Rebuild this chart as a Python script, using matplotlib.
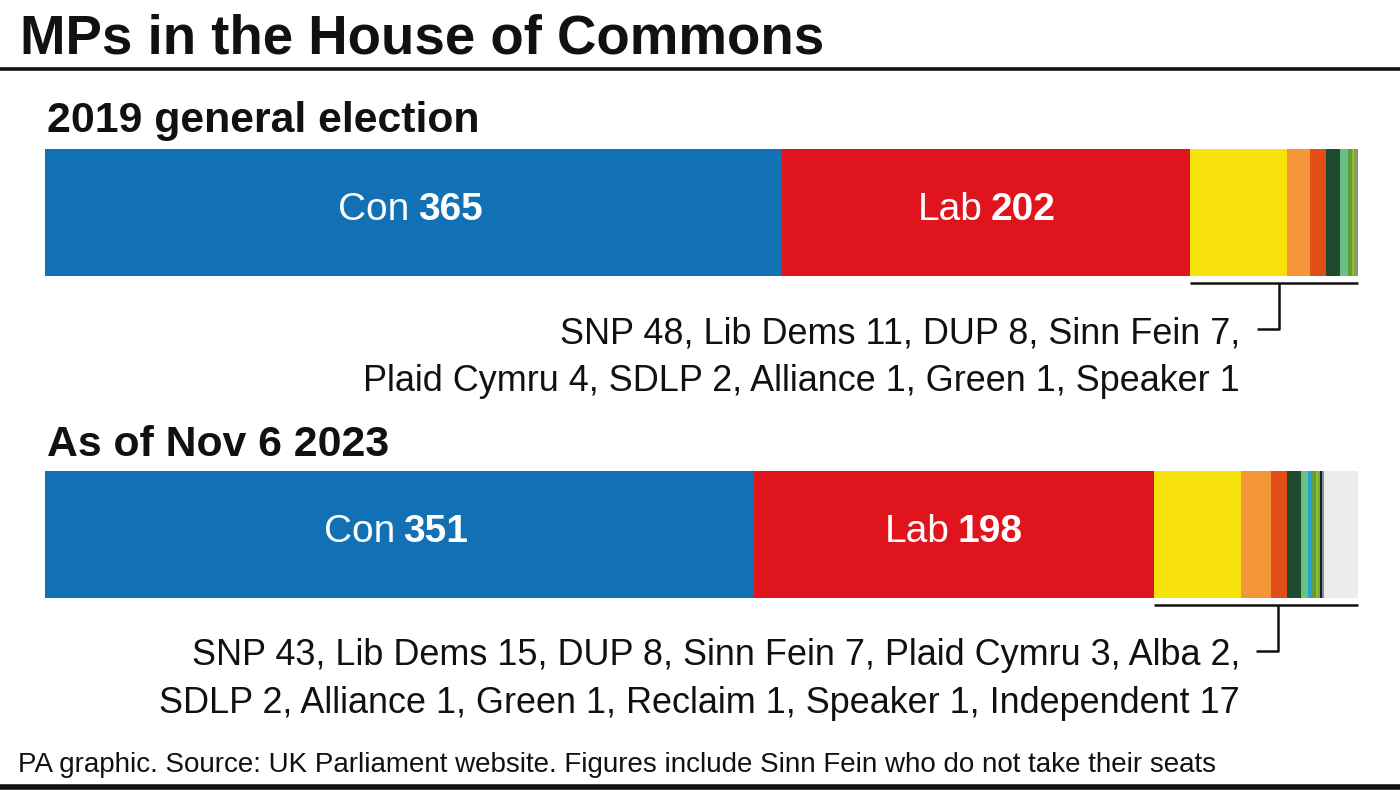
import matplotlib
matplotlib.use("Agg")
import matplotlib.pyplot as plt
import matplotlib.transforms as mtransforms
import numpy as np

plt.rcParams['font.family'] = ['Liberation Sans', 'DejaVu Sans']

# data
parties_2019 = ["Con", "Lab", "SNP", "Lib Dems", "DUP", "Sinn Fein", "Plaid Cymru",
                "SDLP", "Alliance", "Green", "Speaker"]
seats_2019 = [365, 202, 48, 11, 8, 7, 4, 2, 1, 1, 1]

parties_2023 = ["Con", "Lab", "SNP", "Lib Dems", "DUP", "Sinn Fein", "Plaid Cymru",
                "Alba", "SDLP", "Alliance", "Green", "Reclaim", "Speaker", "Independent"]
seats_2023 = [351, 198, 43, 15, 8, 7, 3, 2, 2, 1, 1, 1, 1, 17]

party_colors = {
    "Con": "#1270b4", "Lab": "#e0141d", "SNP": "#f8e20b", "Lib Dems": "#f29638",
    "DUP": "#e14e17", "Sinn Fein": "#1e4b2d", "Plaid Cymru": "#6cbf85",
    "Alba": "#24a2d0", "SDLP": "#5aa03c", "Alliance": "#a9b02e", "Green": "#70b42c",
    "Reclaim": "#101c3c", "Speaker": "#8d8d8d", "Independent": "#ececec",
}

W, H = 1400, 794
fig = plt.figure(figsize=(14, 7.94), dpi=100)

# overlay axes in pixel coords for text and rules
ov = fig.add_axes([0, 0, 1, 1])
ov.set_xlim(0, W)
ov.set_ylim(H, 0)
ov.axis("off")

ink = "#111111"
ov.text(20, 53, "MPs in the House of Commons", fontsize=39.3, fontweight="bold",
        color=ink, va="baseline")
ov.plot([0, W], [69, 69], color=ink, lw=2.6, solid_capstyle="butt")
ov.plot([0, W], [787, 787], color=ink, lw=4, solid_capstyle="butt")
ov.text(18, 772, "PA graphic. Source: UK Parliament website. Figures include Sinn Fein "
        "who do not take their seats", fontsize=20, color=ink, va="baseline")


def draw_block(parties, seats, title, top, title_base, lines, tick_x):
    bar_h = 127
    ov.text(47, title_base, title, fontsize=30.8, fontweight="bold", color=ink,
            va="baseline")
    ax = fig.add_axes([45 / W, 1 - (top + bar_h) / H, 1313 / W, bar_h / H])
    total = sum(seats)
    left = np.concatenate([[0], np.cumsum(seats)[:-1]])
    ax.barh(0, seats, left=left, height=1,
            color=[party_colors[p] for p in parties], linewidth=0)
    ax.set_xlim(0, total)
    ax.set_ylim(-0.5, 0.5)
    ax.axis("off")

    # big labels for Con and Lab
    tr = mtransforms.blended_transform_factory(ax.transData, ax.transAxes)
    for i in range(2):
        cx = left[i] + seats[i] / 2
        yb = (bar_h - 71) / bar_h
        ax.annotate(parties[i], (cx, yb), xycoords=tr, xytext=(-4, 0),
                    textcoords="offset pixels", ha="right", va="baseline",
                    fontsize=28, color="white")
        ax.annotate(str(seats[i]), (cx, yb), xycoords=tr, xytext=(4, 0),
                    textcoords="offset pixels", ha="left", va="baseline",
                    fontsize=28, fontweight="bold", color="white")

    # bracket under the small parties
    by = top + bar_h + 7
    yax = -7 / bar_h
    ax.plot([left[2], total], [yax, yax], transform=tr, color=ink, lw=1.8,
            clip_on=False, solid_capstyle="butt")
    ov.plot([tick_x, tick_x, tick_x - 22], [by, by + 46, by + 46], color=ink,
            lw=1.8, solid_capstyle="butt")

    base = top + bar_h + 67
    for k, line in enumerate(lines):
        ov.text(1240, base + k * 48, line, fontsize=25.9, color=ink,
                ha="right", va="baseline")


def small_lines(parties, seats, split):
    items = [f"{p} {s}" for p, s in zip(parties[2:], seats[2:])]
    return [", ".join(items[:split]) + ",", ", ".join(items[split:])]


draw_block(parties_2019, seats_2019, "2019 general election", 149, 132,
           small_lines(parties_2019, seats_2019, 4), 1279)
draw_block(parties_2023, seats_2023, "As of Nov 6 2023", 471, 456,
           small_lines(parties_2023, seats_2023, 6), 1278)

fig.savefig("out.png", dpi=100)
